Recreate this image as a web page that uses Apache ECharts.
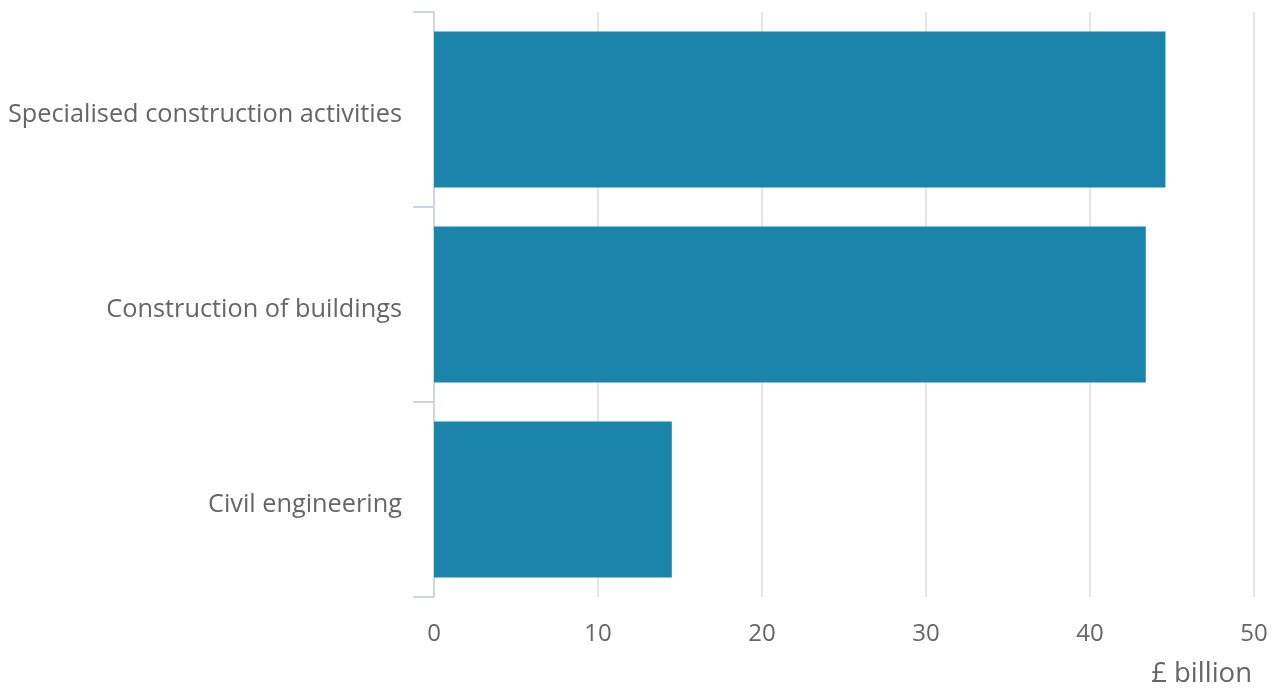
<!DOCTYPE html>
<html><head><meta charset="utf-8">
<script src="https://cdn.jsdelivr.net/npm/echarts@6/dist/echarts.min.js"></script>
<style>html,body{margin:0;padding:0;background:#fff}#c{width:1274px;height:691px}</style>
</head><body><div id="c"></div>
<script>
const categories = ["Specialised construction activities", "Construction of buildings", "Civil engineering"];
const values = [44.6, 43.4, 14.5];
const xTicks = [0, 10, 20, 30, 40, 50];
const axisTitle = "£ billion";

const chart = echarts.init(document.getElementById('c'));
chart.setOption({
  animation: false,
  textStyle: { fontFamily: "Open Sans" },
  grid: { left: 434, right: 20, top: 12, bottom: 94, containLabel: false },
  xAxis: {
    type: 'value', min: xTicks[0], max: xTicks[xTicks.length - 1], interval: 10,
    axisLine: { show: false }, axisTick: { show: false },
    axisLabel: { color: '#666', fontSize: 24, margin: 25, fontFamily: "Open Sans" },
    splitLine: { lineStyle: { color: '#e6e6e6', width: 2 } }
  },
  yAxis: {
    type: 'category', data: categories, inverse: true,
    axisLine: { show: true, lineStyle: { color: '#ccd6eb', width: 2 } },
    axisTick: { show: true, length: 21, alignWithLabel: false, lineStyle: { color: '#ccd6eb', width: 2 } },
    axisLabel: {
      margin: 32,
      formatter: v => '{a|' + v + '}',
      rich: { a: { color: '#666', fontSize: 25.3, fontFamily: "Open Sans", padding: [10, 0, 0, 0] } }
    }
  },
  series: [{
    type: 'bar', data: values, barCategoryGap: '20%',
    itemStyle: { color: '#1b84ab' }
  }],
  graphic: [{
    type: 'text', right: 22, top: 660,
    style: { text: axisTitle, fill: '#666', font: '27.5px "Open Sans"' }
  }]
});
</script></body></html>
